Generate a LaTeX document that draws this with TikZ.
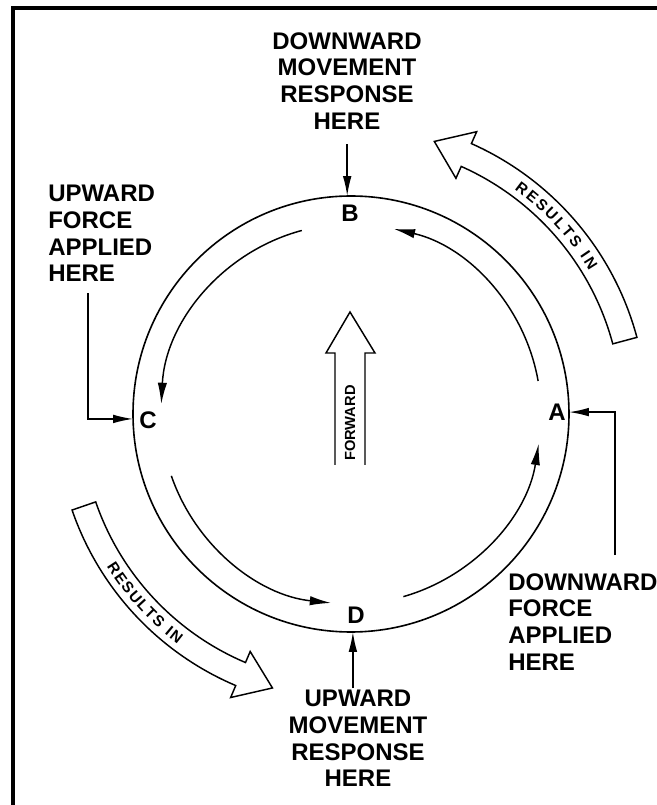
\documentclass[tikz,border=0pt]{standalone}
\usepackage{fontspec}
\setmainfont{Liberation Sans}
\usetikzlibrary{arrows.meta,calc,decorations.text}
\tikzset{
  lbl/.style   = {font=\fontsize{18}{20}\selectfont\bfseries, inner sep=0pt},
  pnt/.style   = {font=\fontsize{18}{18}\selectfont\bfseries, inner sep=0pt},
  ring/.style  = {draw=black, line width=1.2pt},
  flow/.style  = {-{Latex[length=16pt,width=7pt]}, line width=1.1pt},
  ptr/.style   = {-{Latex[length=15pt,width=6.5pt]}, line width=1.1pt},
  band/.style  = {draw=black, fill=white, line width=1.1pt, line join=miter},
  frame/.style = {draw=black, line width=3pt},
}
\newcommand{\resfont}{\fontsize{11.5}{11.5}\selectfont\bfseries}
\newcommand{\results}[3]{\path[decorate, decoration={text along path,
    text={|\resfont|RESULTS IN}, text align={fit to path}}]
  (#1:#3) arc[start angle=#1, end angle=#2, radius=#3];}

\begin{document}
\begin{tikzpicture}[x=0.75pt,y=0.75pt]
\useasboundingbox (-351,-391) rectangle (305,414);

% ------------------------------------------------------------------ frame
\draw[frame] (-338,-395) -- (-338,406) -- (310,406);

% ------------------------------------------------------------------ the wheel
\draw[ring] (0,0) circle[radius=218];
\node[pnt] (A) at (206,2)    {A};
\node[pnt] (B) at (-1,201)   {B};
\node[pnt] (C) at (-203,-6)  {C};
\node[pnt] (D) at (5,-201)   {D};

\coordinate (sAB) at (10:190);
\coordinate (sBC) at (105:190);
\coordinate (sCD) at (199:190);
\coordinate (sDA) at (286:190);
\draw[flow] (sAB) arc[start angle=10,  end angle=77,  radius=190];
\draw[flow] (sBC) arc[start angle=105, end angle=177, radius=190];
\draw[flow] (sCD) arc[start angle=199, end angle=264, radius=190];
\draw[flow] (sDA) arc[start angle=286, end angle=351, radius=190];

% ------------------------------------------------------------------ forward
\draw[band, fill=none] (-16,-51) -- (-16,61) -- (-25,61) -- (-1,102)
  -- (24,61) -- (14,61) -- (14,-51);
\node[font=\fontsize{11}{11}\selectfont\bfseries, rotate=90, inner sep=0pt]
  (fwd) at (-1,-9) {FORWARD};

% ------------------------------------------------------------------ results in
\draw[band] (15:271) arc[start angle=15, end angle=66, radius=271]
  -- (66:258) -- (73:285) -- (66:309) -- (66:296)
  arc[start angle=66, end angle=15, radius=296] -- cycle;
\results{54}{31}{278}
\draw[band] (199:270) arc[start angle=199, end angle=247, radius=270]
  -- (247:258) -- (254:285) -- (247:308) -- (247:295)
  arc[start angle=247, end angle=199, radius=295] -- cycle;
\results{212}{233}{288}

% ------------------------------------------------------------------ labels
\node[lbl, align=center, anchor=north] (lblB) at (-4,382)
  {DOWNWARD\\MOVEMENT\\RESPONSE\\HERE};
\node[lbl, align=left, anchor=north west] (lblC) at (-303,229)
  {UPWARD\\FORCE\\APPLIED\\HERE};
\node[lbl, align=left, anchor=north west] (lblA) at (157,-159)
  {DOWNWARD\\FORCE\\APPLIED\\HERE};
\node[lbl, align=center, anchor=north] (lblD) at (7,-276)
  {UPWARD\\MOVEMENT\\RESPONSE\\HERE};

\coordinate (pA) at (0.5:218);
\coordinate (pB) at (91:218);
\coordinate (pC) at (181.3:218);
\coordinate (pD) at (-89.5:218);
\draw[ptr] ($(lblB.south -| pB)+(0,-15)$) -- (pB);
\draw[ptr] ($(lblD.north -| pD)+(0,2)$) -- (pD);
\draw[ptr] ($(lblC.south west)+(40,-11)$) |- (pC);
\draw[ptr] ($(lblA.north west)+(107,18)$) |- (pA);

\end{tikzpicture}
\end{document}
